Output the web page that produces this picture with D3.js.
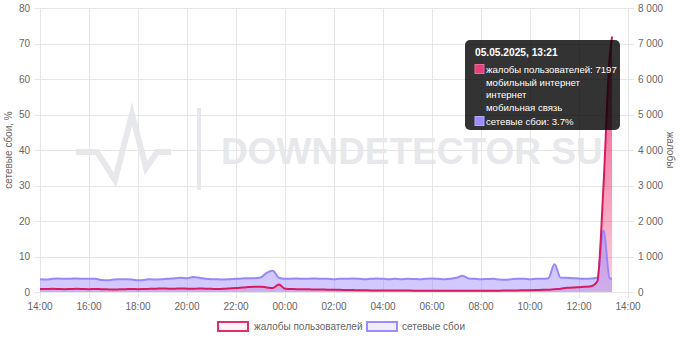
<!DOCTYPE html>
<html>
<head>
<meta charset="utf-8">
<script src="https://cdn.jsdelivr.net/npm/d3@7/dist/d3.min.js"></script>
<style>
  html, body { margin: 0; padding: 0; background: #fff; }
  svg { display: block; font-family: "Liberation Sans", Arial, Helvetica, sans-serif; }
</style>
</head>
<body>
<svg id="chart" width="680" height="340"></svg>
<script>
// Readings every 15 minutes from 14:00, plus the latest reading at 13:21
const startTime = new Date(2025, 4, 4, 14, 0);
const endTime = new Date(2025, 4, 5, 14, 0);
const lastTime = new Date(2025, 4, 5, 13, 21);
const stepMinutes = 15;

// User complaints (right axis)
const complaints = [
  85, 85, 90, 85, 80, 85, 90, 85, 80, 85,
  80, 75, 70, 75, 80, 85, 80, 85, 90, 95,
  100, 95, 95, 100, 95, 90, 100, 95, 90, 85,
  90, 100, 110, 125, 140, 150, 150, 130, 110, 210,
  90, 85, 80, 80, 75, 70, 70, 65, 65, 60,
  55, 55, 50, 50, 45, 45, 45, 42, 40, 40,
  40, 38, 38, 37, 37, 36, 36, 35, 36, 36,
  36, 36, 37, 37, 38, 38, 40, 42, 45, 48,
  50, 55, 60, 65, 80, 90, 120, 125, 135, 145,
  160, 300, 3000, 6600,
  7197
];

// Network failures, % (left axis)
const failures = [
  3.6, 3.5, 3.7, 3.8, 3.7, 3.75, 3.8, 3.7, 3.75, 3.7,
  3.4, 3.3, 3.5, 3.6, 3.6, 3.5, 3.3, 3.4, 3.6, 3.5,
  3.6, 3.7, 3.9, 4.0, 3.9, 4.2, 4.0, 3.7, 3.6, 3.6,
  3.5, 3.6, 3.7, 3.8, 3.9, 3.9, 4.1, 5.4, 6.0, 4.0,
  3.7, 3.75, 3.8, 3.7, 3.75, 3.8, 3.7, 3.7, 3.6, 3.7,
  3.7, 3.8, 3.75, 3.6, 3.7, 3.8, 3.7, 3.6, 3.7, 3.6,
  3.7, 3.65, 3.6, 3.7, 3.8, 3.7, 3.6, 3.7, 4.0, 4.6,
  3.8, 3.7, 3.6, 3.65, 3.7, 3.5, 3.45, 3.6, 3.7, 3.7,
  3.6, 3.7, 3.7, 3.9, 7.8, 4.0, 4.0, 3.9, 3.8, 3.7,
  3.8, 4.0, 17.3, 3.9,
  3.7
];

const leftTicks = [0, 10, 20, 30, 40, 50, 60, 70, 80];
const rightTicks = [0, 1000, 2000, 3000, 4000, 5000, 6000, 7000, 8000];
const problemTypes = ["мобильный интернет", "интернет", "мобильная связь"];
const seriesNames = { complaints: "жалобы пользователей", failures: "сетевые сбои" };
const axisTitles = { left: "сетевые сбои, %", right: "жалобы" };
const watermarkText = "DOWNDETECTOR SU";

const times = complaints.map((_, i) =>
  i < complaints.length - 1 ? d3.timeMinute.offset(startTime, i * stepMinutes) : lastTime);
const rows = times.map((t, i) => ({ t, c: complaints[i], f: failures[i] }));

const svg = d3.select("#chart");
const M = { left: 40, right: 628, top: 8, bottom: 292 };

const x = d3.scaleTime().domain([startTime, endTime]).range([M.left, M.right]);
const yL = d3.scaleLinear().domain([0, 80]).range([M.bottom, M.top]);
const yR = d3.scaleLinear().domain([0, 8000]).range([M.bottom, M.top]);

const ru = d3.formatLocale({ decimal: ".", thousands: " ", grouping: [3], currency: ["", ""] });
const fmtThousands = ru.format(",");
const fmtTime = d3.timeFormat("%H:%M");
const fmtStamp = d3.timeFormat("%d.%m.%Y, %H:%M");

const textCol = "#666";
const gridCol = "#e6e6e6";
const fs = 10;

// Watermark
const wm = svg.append("g").attr("fill", "none").attr("stroke", "#e7e8ec")
  .attr("stroke-width", 6).attr("stroke-linejoin", "miter");
wm.append("polyline")
  .attr("points", [[76,152],[97,152],[115,180],[132,114],[146,168],[157,152],[171,152]].map(p => p.join(",")).join(" "));
wm.append("line").attr("x1", 199).attr("x2", 199).attr("y1", 108).attr("y2", 190).attr("stroke-width", 4);
svg.append("text").attr("x", 221).attr("y", 164)
  .attr("font-size", 37).attr("font-weight", 700).attr("fill", "#e7e8ec")
  .text(watermarkText);

// Grid
const grid = svg.append("g").attr("stroke", gridCol).attr("stroke-width", 1).attr("shape-rendering", "crispEdges");
leftTicks.forEach(v => {
  grid.append("line").attr("x1", M.left - 6).attr("x2", M.right + 6)
    .attr("y1", Math.round(yL(v)) + 0.5).attr("y2", Math.round(yL(v)) + 0.5);
});
const xTicks = x.ticks(d3.timeHour.every(2));
xTicks.forEach(t => {
  grid.append("line").attr("x1", Math.round(x(t)) + 0.5).attr("x2", Math.round(x(t)) + 0.5)
    .attr("y1", M.top).attr("y2", M.bottom + 6);
});

// Tick labels
const lbl = svg.append("g").attr("fill", textCol).attr("font-size", fs);
leftTicks.forEach(v => {
  lbl.append("text").attr("x", M.left - 10).attr("y", yL(v)).attr("dy", "0.35em")
    .attr("text-anchor", "end").text(v);
});
rightTicks.forEach(v => {
  lbl.append("text").attr("x", M.right + 10).attr("y", yR(v)).attr("dy", "0.35em")
    .attr("text-anchor", "start").text(fmtThousands(v));
});
xTicks.forEach(t => {
  lbl.append("text").attr("x", x(t)).attr("y", M.bottom + 18)
    .attr("text-anchor", "middle").text(fmtTime(t));
});

// Axis titles
svg.append("text").attr("transform", `translate(12,${(M.top + M.bottom) / 2}) rotate(-90)`)
  .attr("text-anchor", "middle").attr("fill", textCol).attr("font-size", fs).text(axisTitles.left);
svg.append("text").attr("transform", `translate(667,${(M.top + M.bottom) / 2}) rotate(90)`)
  .attr("text-anchor", "middle").attr("fill", textCol).attr("font-size", fs).text(axisTitles.right);

// Series
const defs = svg.append("defs");
const grad = defs.append("linearGradient").attr("id", "pinkFill")
  .attr("gradientUnits", "userSpaceOnUse").attr("x1", 0).attr("x2", 0)
  .attr("y1", yR(7200)).attr("y2", yR(0));
grad.append("stop").attr("offset", 0).attr("stop-color", "rgb(233,30,99)").attr("stop-opacity", 0.8);
grad.append("stop").attr("offset", 1).attr("stop-color", "rgb(233,30,99)").attr("stop-opacity", 0.2);

const curve = d3.curveMonotoneX;
const areaC = d3.area().x(d => x(d.t)).y0(yR(0)).y1(d => yR(d.c)).curve(curve);
const lineC = d3.line().x(d => x(d.t)).y(d => yR(d.c)).curve(curve);
const areaF = d3.area().x(d => x(d.t)).y0(yL(0)).y1(d => yL(d.f)).curve(curve);
const lineF = d3.line().x(d => x(d.t)).y(d => yL(d.f)).curve(curve);

svg.append("path").datum(rows).attr("d", areaC).attr("fill", "url(#pinkFill)");
svg.append("path").datum(rows).attr("d", areaF).attr("fill", "rgba(140,120,255,0.4)");
svg.append("path").datum(rows).attr("d", lineF).attr("fill", "none")
  .attr("stroke", "rgb(150,135,255)").attr("stroke-width", 2);
svg.append("path").datum(rows).attr("d", lineC).attr("fill", "none")
  .attr("stroke", "#d81b60").attr("stroke-width", 2);

// Legend
const leg = svg.append("g").attr("font-size", fs).attr("fill", textCol);
leg.append("rect").attr("x", 218).attr("y", 322).attr("width", 30).attr("height", 9)
  .attr("fill", "rgba(233,30,99,0.05)").attr("stroke", "#e0306a").attr("stroke-width", 2);
leg.append("text").attr("x", 254).attr("y", 330).text(seriesNames.complaints);
leg.append("rect").attr("x", 367).attr("y", 322).attr("width", 30).attr("height", 9)
  .attr("fill", "rgba(140,120,255,0.12)").attr("stroke", "#9d8cff").attr("stroke-width", 2);
leg.append("text").attr("x", 402).attr("y", 330).text(seriesNames.failures);

// Tooltip for the latest reading
const last = rows[rows.length - 1];
const tip = svg.append("g");
tip.append("rect").attr("x", 465).attr("y", 40).attr("width", 155).attr("height", 90).attr("rx", 5)
  .attr("fill", "rgba(0,0,0,0.8)");
tip.append("text").attr("x", 475).attr("y", 56).attr("fill", "#fff").attr("font-size", 10.2)
  .attr("font-weight", 700).text(fmtStamp(last.t));
tip.append("rect").attr("x", 475).attr("y", 64.5).attr("width", 9).attr("height", 9)
  .attr("fill", "#e2417c").attr("stroke", "#f06a9a").attr("stroke-width", 1);
const tipText = tip.append("g").attr("fill", "#fff").attr("font-size", 9.6);
tipText.append("text").attr("x", 486).attr("y", 73).text(`${seriesNames.complaints}: ${last.c}`);
problemTypes.forEach((p, i) => {
  tipText.append("text").attr("x", 486).attr("y", 85.5 + i * 12.5).text(p);
});
tip.append("rect").attr("x", 475).attr("y", 116.5).attr("width", 9).attr("height", 9)
  .attr("fill", "#9d8cff").attr("stroke", "#b3a6ff").attr("stroke-width", 1);
tipText.append("text").attr("x", 486).attr("y", 125).text(`${seriesNames.failures}: ${last.f}%`);
</script>
</body>
</html>
